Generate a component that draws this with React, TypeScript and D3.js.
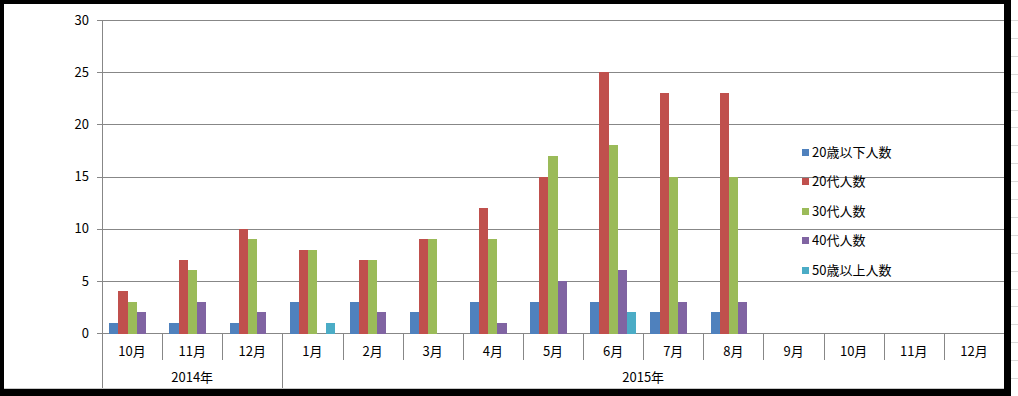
import React from 'react';
import * as d3 from 'd3';

const years = ['2014年', '2015年'];
const yearSpans = [3, 12];
const months = ['10月', '11月', '12月', '1月', '2月', '3月', '4月', '5月', '6月', '7月', '8月', '9月', '10月', '11月', '12月'];
const seriesNames = ['20歳以下人数', '20代人数', '30代人数', '40代人数', '50歳以上人数'];
const seriesColors = ['#4F81BD', '#C0504D', '#9BBB59', '#8064A2', '#4BACC6'];
const under20: (number | null)[] = [1, 1, 1, 3, 3, 2, 3, 3, 3, 2, 2, null, null, null, null];
const twenties: (number | null)[] = [4, 7, 10, 8, 7, 9, 12, 15, 25, 23, 23, null, null, null, null];
const thirties: (number | null)[] = [3, 6, 9, 8, 7, 9, 9, 17, 18, 15, 15, null, null, null, null];
const forties: (number | null)[] = [2, 3, 2, 0, 2, 0, 1, 5, 6, 3, 3, null, null, null, null];
const over50: (number | null)[] = [0, 0, 0, 1, 0, 0, 0, 0, 2, 0, 0, null, null, null, null];
const yTicks = [0, 5, 10, 15, 20, 25, 30];

const seriesData = [under20, twenties, thirties, forties, over50];

const W = 1018;
const H = 396;
const FONT = '"Noto Sans CJK JP", "Noto Sans", sans-serif';
const GRID = '#878787';

export default function App() {
  const x = d3.scaleBand<number>().domain(d3.range(months.length)).range([102, 1004]).padding(0);
  const inner = d3.scaleBand<number>().domain(d3.range(seriesData.length)).range([0, x.bandwidth()]).paddingInner(0).paddingOuter(0.8);
  const y = d3.scaleLinear().domain([0, 30]).range([333, 20]);
  const r = (v: number) => Math.round(v) + 0.5;

  // year boundaries (cumulative)
  const yearStarts = yearSpans.map((_, i) => d3.sum(yearSpans.slice(0, i)));

  const sheetLines = d3.range(20, 390, 17.9);

  return (
    <svg width={W} height={H} style={{ position: 'absolute', left: 0, top: 0 }} fontFamily={FONT}>
      {/* spreadsheet background at the right */}
      <rect x={0} y={0} width={W} height={H} fill="#ffffff" />
      {sheetLines.map((ly, i) => (
        <line key={'sl' + i} x1={1011} x2={W} y1={r(ly)} y2={r(ly)} stroke="#d9d9d9" />
      ))}
      {/* black frame */}
      <rect x={0} y={0} width={1011} height={H} fill="#000" />
      <rect x={4} y={4} width={1000} height={385} fill="#fff" />
      <line x1={4} x2={1004} y1={388.5} y2={388.5} stroke="#c8c8c8" />

      {/* gridlines */}
      {yTicks.map(t => (
        <g key={'g' + t}>
          <line x1={97} x2={1004} y1={r(y(t))} y2={r(y(t))} stroke={GRID} />
          <text x={89} y={y(t)} dy="0.36em" textAnchor="end" fontSize={13} fill="#000">{t}</text>
        </g>
      ))}
      {/* y axis */}
      <line x1={r(102)} x2={r(102)} y1={y(30)} y2={388} stroke={GRID} />

      {/* month separators */}
      {months.map((_, i) => {
        const bx = x(i)!;
        const isYear = yearStarts.includes(i);
        if (i === 0) return null;
        return <line key={'ms' + i} x1={r(bx)} x2={r(bx)} y1={333} y2={isYear ? 388 : 360} stroke={GRID} />;
      })}

      {/* bars */}
      {seriesData.map((vals, s) => (
        <g key={'s' + s} fill={seriesColors[s]}>
          {vals.map((v, i) => {
            if (v === null || v === 0) return null;
            const bx = Math.round(x(i)! + inner(s)!);
            const bx2 = Math.round(x(i)! + inner(s)! + inner.bandwidth());
            const top = Math.round(y(v));
            return <rect key={i} x={bx} y={top} width={bx2 - bx} height={Math.round(y(0)) + 1 - top} />;
          })}
        </g>
      ))}

      {/* month labels */}
      {months.map((m, i) => (
        <text key={'m' + i} x={x(i)! + x.bandwidth() / 2} y={351} dy="0.36em" textAnchor="middle" fontSize={13} fill="#000">{m}</text>
      ))}
      {/* year labels */}
      {years.map((yr, i) => {
        const x0 = x(yearStarts[i])!;
        const x1 = x(yearStarts[i] + yearSpans[i] - 1)! + x.bandwidth();
        return <text key={'y' + i} x={(x0 + x1) / 2} y={377} dy="0.36em" textAnchor="middle" fontSize={13} fill="#000">{yr}</text>;
      })}

      {/* legend */}
      {seriesNames.map((n, i) => {
        const ly = 152 + i * 29.6;
        return (
          <g key={'l' + i}>
            <rect x={802} y={Math.round(ly - 3.5)} width={7} height={7} fill={seriesColors[i]} />
            <text x={812} y={ly} dy="0.36em" fontSize={13} fill="#000">{n}</text>
          </g>
        );
      })}
    </svg>
  );
}
